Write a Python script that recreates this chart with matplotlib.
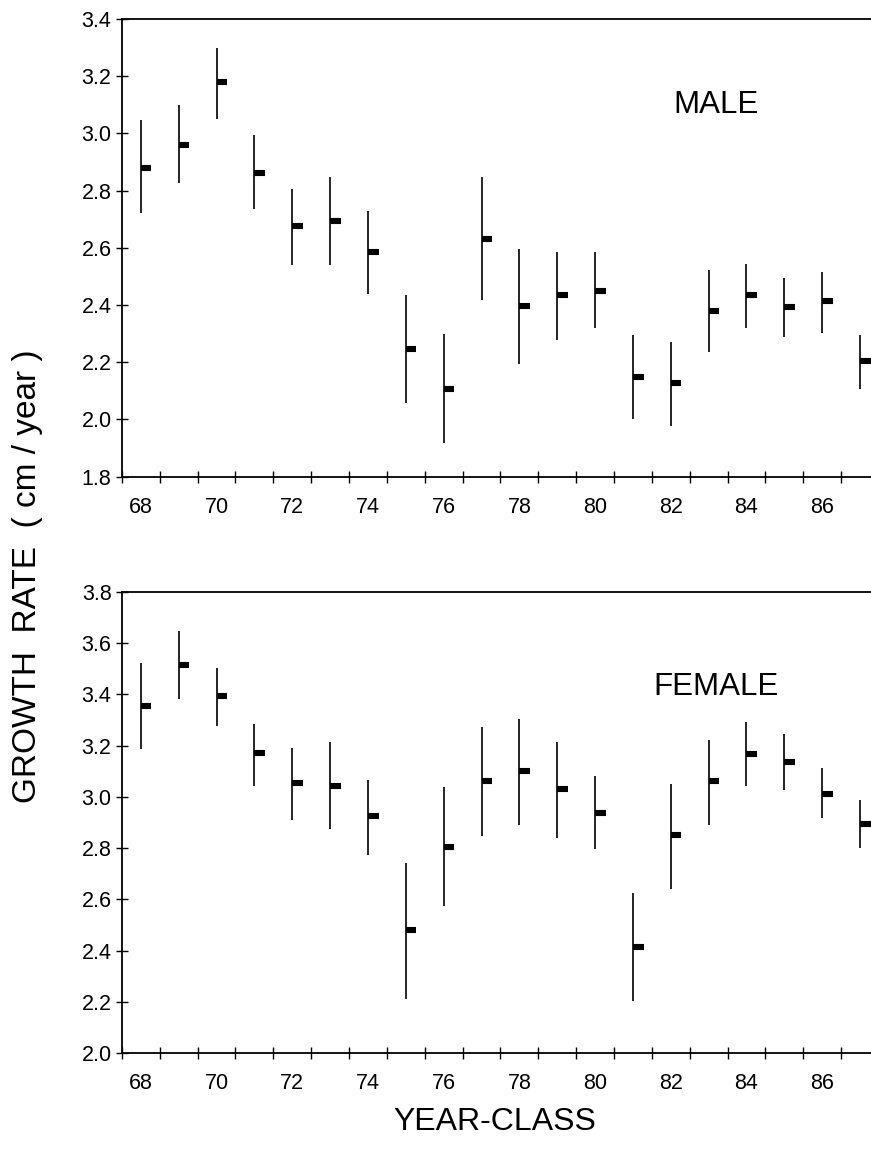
import matplotlib.pyplot as plt
import numpy as np

plt.rcParams['font.family'] = ['Liberation Sans', 'DejaVu Sans']

years = np.arange(68, 88)
even_years = [68, 70, 72, 74, 76, 78, 80, 82, 84, 86]

# MALE: mean, upper and lower limit
male_mean = [2.88, 2.96, 3.18, 2.86, 2.675, 2.695, 2.585, 2.245, 2.105, 2.63,
             2.395, 2.435, 2.45, 2.148, 2.127, 2.38, 2.434, 2.393, 2.413, 2.206]
male_hi = [3.046, 3.10, 3.297, 2.996, 2.807, 2.848, 2.729, 2.436, 2.30, 2.846,
           2.597, 2.585, 2.585, 2.297, 2.27, 2.524, 2.545, 2.496, 2.515, 2.296]
male_lo = [2.723, 2.825, 3.052, 2.735, 2.541, 2.541, 2.44, 2.059, 1.918, 2.416,
           2.194, 2.278, 2.32, 2.003, 1.978, 2.235, 2.319, 2.29, 2.303, 2.107]

# FEMALE
female_mean = [3.355, 3.514, 3.392, 3.169, 3.052, 3.044, 2.925, 2.479, 2.806, 3.061,
               3.101, 3.031, 2.936, 2.414, 2.851, 3.06, 3.167, 3.136, 3.012, 2.895]
female_hi = [3.52, 3.645, 3.503, 3.284, 3.191, 3.214, 3.064, 2.742, 3.038, 3.272,
             3.303, 3.215, 3.083, 2.625, 3.051, 3.222, 3.293, 3.245, 3.112, 2.988]
female_lo = [3.185, 3.383, 3.277, 3.041, 2.91, 2.874, 2.773, 2.213, 2.576, 2.849,
             2.89, 2.84, 2.796, 2.205, 2.64, 2.891, 3.044, 3.027, 2.919, 2.802]


def draw_panel(ax, mean, hi, lo, ylim, yticks, title, title_y):
    ax.vlines(years, lo, hi, color='black', linewidth=1.2)
    ax.hlines(mean, years, years + 0.28, color='black', linewidth=4.4, capstyle='butt')

    ax.set_xlim(67.5, 87.29)
    ax.set_ylim(*ylim)
    ax.set_yticks(yticks)
    ax.set_yticklabels(['%.1f' % v for v in yticks], fontsize=15.5)

    # ticks sit on the cell boundaries, labels in the middle of even years
    ax.set_xticks(np.arange(67.5, 87.5, 1.0))
    ax.set_xticklabels([])
    ax.set_xticks(even_years, minor=True)
    ax.set_xticklabels([str(y) for y in even_years], minor=True, fontsize=15.5)
    ax.tick_params(axis='x', which='minor', length=0, pad=14.5)
    ax.tick_params(axis='x', which='major', direction='inout', length=9, width=1)
    ax.tick_params(axis='y', direction='inout', length=9, width=1, pad=3)

    ax.spines['right'].set_visible(False)
    for s in ['left', 'bottom', 'top']:
        ax.spines[s].set_linewidth(1.3)

    ax.text(83.2, title_y, title, fontsize=22.5, ha='center', va='center')


fig = plt.figure(figsize=(8.71, 11.52), dpi=100)

ax1 = fig.add_axes([0.1400, 0.5862, 0.8600, 0.3973])
draw_panel(ax1, male_mean, male_hi, male_lo, (1.8, 3.4),
           [1.8, 2.0, 2.2, 2.4, 2.6, 2.8, 3.0, 3.2, 3.4], 'MALE', 3.1)

ax2 = fig.add_axes([0.1400, 0.0857, 0.8600, 0.4007])
draw_panel(ax2, female_mean, female_hi, female_lo, (2.0, 3.8),
           [2.0, 2.2, 2.4, 2.6, 2.8, 3.0, 3.2, 3.4, 3.6, 3.8], 'FEMALE', 3.43)

fig.text(0.032, 0.50, 'GROWTH  RATE  ( cm / year )', rotation=90,
         fontsize=24, ha='center', va='center')
fig.text(0.568, 0.026, 'YEAR-CLASS', fontsize=23, ha='center', va='center')

fig.savefig('out.png', dpi=100)
